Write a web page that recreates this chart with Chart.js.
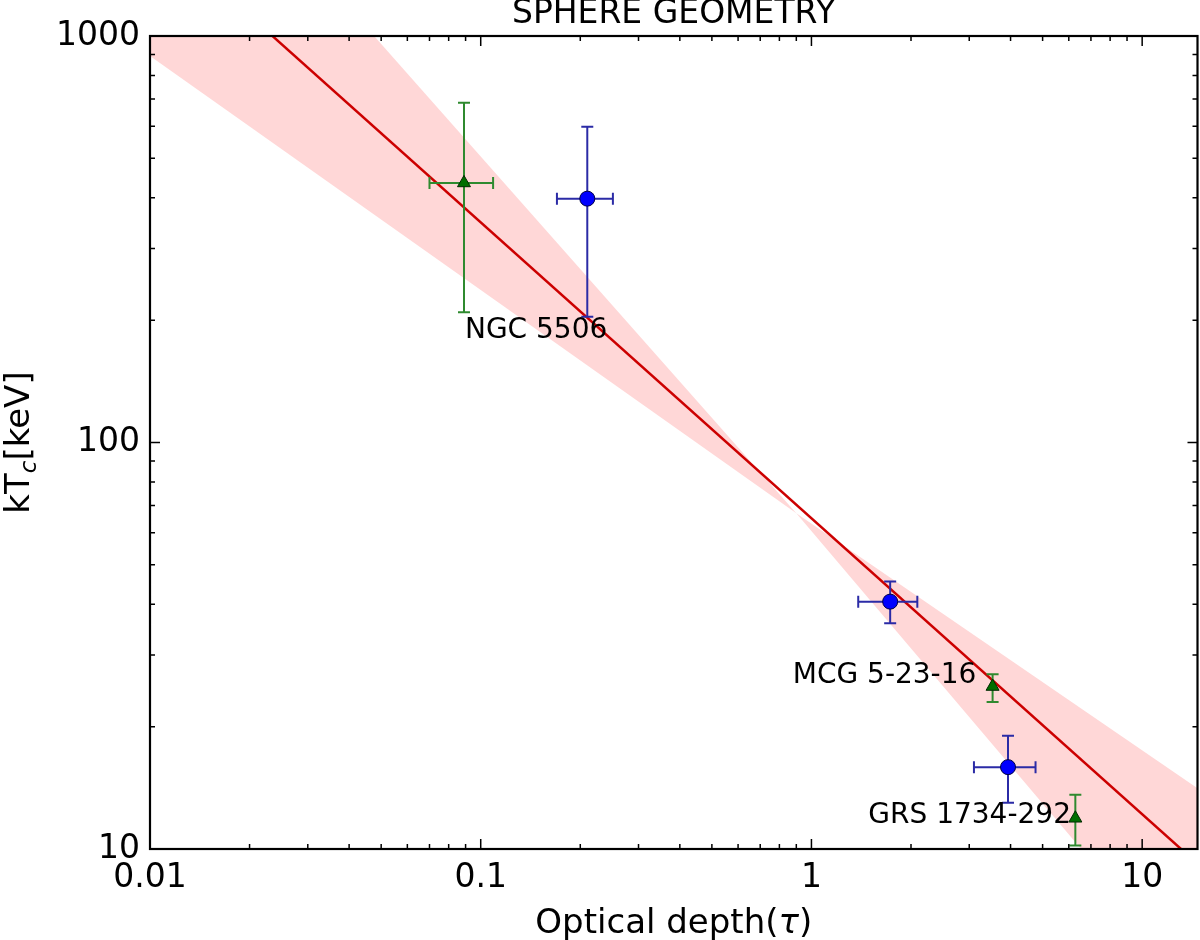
<!DOCTYPE html>
<html>
<head>
<meta charset="utf-8">
<script src="https://cdn.jsdelivr.net/npm/chart.js@4.4.1/dist/chart.umd.min.js"></script>
<style>
    html, body { margin: 0; padding: 0; background: #fff; }
    #wrap { width: 1200px; height: 940px; }
</style>
</head>
<body>
<div id="wrap"><canvas id="sphereChart"></canvas></div>
<script>
// values (tau, kTe in keV)
const blueTau   = [0.210, 1.73, 3.93];
const blueTauLo = [0.170, 1.385, 3.10];
const blueTauHi = [0.251, 2.09, 4.76];
const blueKT    = [398, 40.6, 15.9];
const blueKTLo  = [204, 35.9, 13.0];
const blueKTHi  = [598, 45.5, 19.0];

const greenTau   = [0.089, 3.53, 6.28];
const greenTauLo = [0.070, 3.53, 6.28];
const greenTauHi = [0.109, 3.53, 6.28];
const greenKT    = [435, 25.1, 11.9];
const greenKTLo  = [209, 23.0, 10.2];
const greenKTHi  = [685, 26.9, 13.6];

const sourceNames = ['NGC 5506', 'MCG 5-23-16', 'GRS 1734-292'];
const nameTau = [0.0896, 0.878, 1.486];
const nameKT  = [181, 25.6, 11.6];

// best fit line and its confidence band
const fitTau = [0.01, 14.7];
const fitKT  = [1860, 9.2];
const bandTau   = [0.01, 0.9, 14.7];
const bandUpper = [4200, 67, 14.1];
const bandLower = [893, 67, 4.6];

const xTicks = [0.01, 0.1, 1, 10];
const yTicks = [10, 100, 1000];
const minorSteps = [2, 3, 4, 5, 6, 7, 8, 9];

const FONT = 'DejaVu Sans';

function points(xs, ys) {
    return xs.map((x, i) => ({ x: x, y: ys[i] }));
}

// draw a list of text runs centred on cx
function drawRuns(ctx, runs, cx, y) {
    let total = 0;
    runs.forEach(r => { ctx.font = r.font; total += ctx.measureText(r.text).width; });
    let x = cx - total / 2;
    ctx.textAlign = 'left';
    ctx.textBaseline = 'alphabetic';
    runs.forEach(r => {
        ctx.font = r.font;
        ctx.fillText(r.text, x, y + (r.dy || 0));
        x += ctx.measureText(r.text).width;
    });
}

function drawErrors(ctx, xs, ys, tau, tauLo, tauHi, kt, ktLo, ktHi, color) {
    const cap = 6;
    ctx.strokeStyle = color;
    ctx.lineWidth = 2;
    for (let i = 0; i < tau.length; i++) {
        const px = xs.getPixelForValue(tau[i]);
        const py = ys.getPixelForValue(kt[i]);
        const y0 = ys.getPixelForValue(ktLo[i]);
        const y1 = ys.getPixelForValue(ktHi[i]);
        ctx.beginPath();
        ctx.moveTo(px, y0); ctx.lineTo(px, y1);
        ctx.moveTo(px - cap, y0); ctx.lineTo(px + cap, y0);
        ctx.moveTo(px - cap, y1); ctx.lineTo(px + cap, y1);
        if (tauLo[i] !== tauHi[i]) {
            const x0 = xs.getPixelForValue(tauLo[i]);
            const x1 = xs.getPixelForValue(tauHi[i]);
            ctx.moveTo(x0, py); ctx.lineTo(x1, py);
            ctx.moveTo(x0, py - cap); ctx.lineTo(x0, py + cap);
            ctx.moveTo(x1, py - cap); ctx.lineTo(x1, py + cap);
        }
        ctx.stroke();
    }
}

const errorBars = {
    id: 'errorBars',
    beforeDatasetDraw(chart, args) {
        if (args.index !== 1) return;
        const { ctx, chartArea: a } = chart;
        ctx.save();
        ctx.beginPath();
        ctx.rect(a.left, a.top, a.right - a.left, a.bottom - a.top);
        ctx.clip();
        drawErrors(ctx, chart.scales.x, chart.scales.y,
            blueTau, blueTauLo, blueTauHi, blueKT, blueKTLo, blueKTHi, '#2b2ba6');
        drawErrors(ctx, chart.scales.x, chart.scales.y,
            greenTau, greenTauLo, greenTauHi, greenKT, greenKTLo, greenKTHi, '#2f8a2f');
        ctx.restore();
    }
};

const frame = {
    id: 'frame',
    afterDatasetsDraw(chart) {
        const { ctx, chartArea: a } = chart;
        const xs = chart.scales.x, ys = chart.scales.y;
        ctx.save();

        // source names
        ctx.fillStyle = '#000';
        ctx.font = '28px "' + FONT + '"';
        ctx.textAlign = 'left';
        ctx.textBaseline = 'alphabetic';
        sourceNames.forEach((n, i) => {
            ctx.fillText(n, xs.getPixelForValue(nameTau[i]), ys.getPixelForValue(nameKT[i]));
        });

        // inward ticks on all four sides
        ctx.strokeStyle = '#000';
        ctx.lineWidth = 1.5;
        ctx.beginPath();
        const xMarks = [], yMarks = [];
        xTicks.forEach(t => {
            xMarks.push([t, 10]);
            minorSteps.forEach(m => xMarks.push([t * m, 5]));
        });
        yTicks.forEach(t => {
            yMarks.push([t, 10]);
            minorSteps.forEach(m => yMarks.push([t * m, 5]));
        });
        xMarks.forEach(([v, len]) => {
            if (v > xs.max) return;
            const px = xs.getPixelForValue(v);
            ctx.moveTo(px, a.bottom); ctx.lineTo(px, a.bottom - len);
            ctx.moveTo(px, a.top); ctx.lineTo(px, a.top + len);
        });
        yMarks.forEach(([v, len]) => {
            if (v > ys.max) return;
            const py = ys.getPixelForValue(v);
            ctx.moveTo(a.left, py); ctx.lineTo(a.left + len, py);
            ctx.moveTo(a.right, py); ctx.lineTo(a.right - len, py);
        });
        ctx.stroke();

        // axes box
        ctx.lineWidth = 2.2;
        ctx.strokeRect(a.left, a.top, a.right - a.left, a.bottom - a.top);
        ctx.restore();
    },
    afterDraw(chart) {
        const { ctx, chartArea: a } = chart;
        const cx = (a.left + a.right) / 2;
        ctx.save();
        ctx.fillStyle = '#000';
        drawRuns(ctx, [{ text: 'SPHERE GEOMETRY', font: '33px "' + FONT + '"' }], cx, 23);
        drawRuns(ctx, [
            { text: 'Optical depth(', font: '34px "' + FONT + '"' },
            { text: 'τ', font: 'italic 34px "' + FONT + '"' },
            { text: ')', font: '34px "' + FONT + '"' }
        ], cx, 933);
        ctx.translate(29, (a.top + a.bottom) / 2);
        ctx.rotate(-Math.PI / 2);
        drawRuns(ctx, [
            { text: 'kT', font: '34px "' + FONT + '"' },
            { text: 'c', font: 'italic 23px "' + FONT + '"', dy: 7 },
            { text: '[keV]', font: '34px "' + FONT + '"' }
        ], 0, 0);
        ctx.restore();
    }
};

new Chart(document.getElementById('sphereChart'), {
    type: 'line',
    data: {
        datasets: [
            {
                label: 'triangles',
                data: points(greenTau, greenKT),
                showLine: false,
                pointStyle: 'triangle',
                pointRadius: 7.5,
                backgroundColor: '#006e00',
                borderColor: '#002a00',
                borderWidth: 1,
                order: 1
            },
            {
                label: 'circles',
                data: points(blueTau, blueKT),
                showLine: false,
                pointStyle: 'circle',
                pointRadius: 7.5,
                backgroundColor: '#0000ff',
                borderColor: '#000044',
                borderWidth: 1,
                order: 2
            },
            {
                label: 'fit',
                data: points(fitTau, fitKT),
                borderColor: '#cc0000',
                borderWidth: 2.5,
                pointRadius: 0,
                fill: false,
                order: 3
            },
            {
                label: 'band upper',
                data: points(bandTau, bandUpper),
                borderWidth: 0,
                borderColor: 'rgba(0,0,0,0)',
                pointRadius: 0,
                backgroundColor: 'rgba(255, 40, 40, 0.19)',
                fill: '+1',
                order: 4
            },
            {
                label: 'band lower',
                data: points(bandTau, bandLower),
                borderWidth: 0,
                borderColor: 'rgba(0,0,0,0)',
                pointRadius: 0,
                fill: false,
                order: 5
            }
        ]
    },
    options: {
        responsive: true,
        maintainAspectRatio: false,
        animation: false,
        layout: { autoPadding: false, padding: { top: 36, right: 2.5, left: 0, bottom: 0 } },
        plugins: {
            legend: { display: false },
            tooltip: { enabled: false },
            title: { display: false }
        },
        scales: {
            x: {
                type: 'logarithmic',
                min: 0.01,
                max: 14.7,
                grid: { display: false, drawTicks: false },
                border: { display: false },
                afterBuildTicks: s => { s.ticks = xTicks.map(v => ({ value: v })); },
                afterFit: s => { s.height = 91; },
                ticks: {
                    color: '#000',
                    padding: 10,
                    maxRotation: 0,
                    autoSkip: false,
                    font: { family: FONT, size: 33 },
                    callback: v => String(v)
                }
            },
            y: {
                type: 'logarithmic',
                min: 10,
                max: 1000,
                grid: { display: false, drawTicks: false },
                border: { display: false },
                afterBuildTicks: s => { s.ticks = yTicks.map(v => ({ value: v })); },
                afterFit: s => { s.width = 150; },
                ticks: {
                    color: '#000',
                    padding: 10,
                    autoSkip: false,
                    font: { family: FONT, size: 33 },
                    callback: v => String(v)
                }
            }
        }
    },
    plugins: [errorBars, frame]
});
</script>
</body>
</html>
